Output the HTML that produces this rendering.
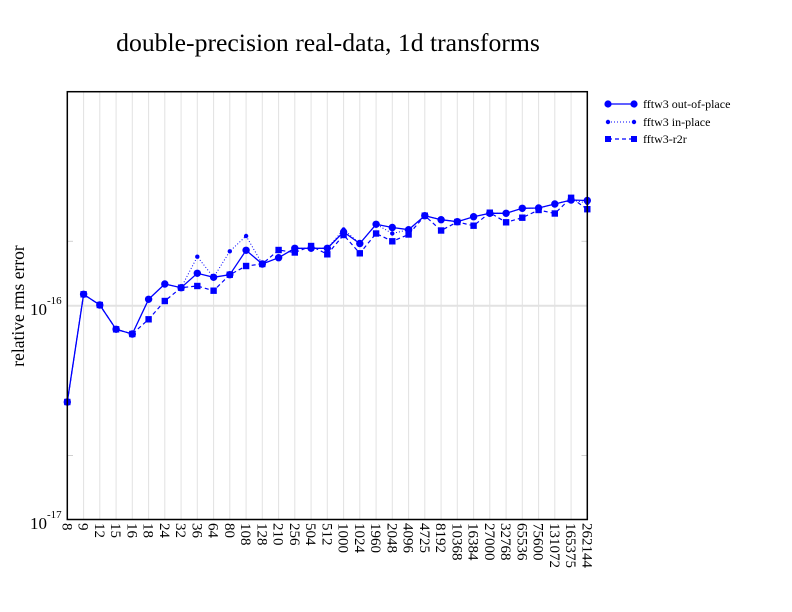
<!DOCTYPE html>
<html><head><meta charset="utf-8"><style>
html,body{margin:0;padding:0;background:#fff;}
svg{display:block;}
text{font-family:"Liberation Serif","DejaVu Serif",serif;fill:#000;}
</style></head><body>
<svg width="792" height="612" viewBox="0 0 792 612" xmlns="http://www.w3.org/2000/svg">
<rect width="792" height="612" fill="#fff"/>
<text x="328" y="51" font-size="25.7" text-anchor="middle">double-precision real-data, 1d transforms</text>
<g stroke="#e2e2e2" stroke-width="1">
<line x1="83.6" y1="91.7" x2="83.6" y2="519.5"/>
<line x1="99.8" y1="91.7" x2="99.8" y2="519.5"/>
<line x1="116.1" y1="91.7" x2="116.1" y2="519.5"/>
<line x1="132.3" y1="91.7" x2="132.3" y2="519.5"/>
<line x1="148.6" y1="91.7" x2="148.6" y2="519.5"/>
<line x1="164.8" y1="91.7" x2="164.8" y2="519.5"/>
<line x1="181.1" y1="91.7" x2="181.1" y2="519.5"/>
<line x1="197.3" y1="91.7" x2="197.3" y2="519.5"/>
<line x1="213.6" y1="91.7" x2="213.6" y2="519.5"/>
<line x1="229.8" y1="91.7" x2="229.8" y2="519.5"/>
<line x1="246.1" y1="91.7" x2="246.1" y2="519.5"/>
<line x1="262.3" y1="91.7" x2="262.3" y2="519.5"/>
<line x1="278.6" y1="91.7" x2="278.6" y2="519.5"/>
<line x1="294.8" y1="91.7" x2="294.8" y2="519.5"/>
<line x1="311.1" y1="91.7" x2="311.1" y2="519.5"/>
<line x1="327.3" y1="91.7" x2="327.3" y2="519.5"/>
<line x1="343.6" y1="91.7" x2="343.6" y2="519.5"/>
<line x1="359.8" y1="91.7" x2="359.8" y2="519.5"/>
<line x1="376.1" y1="91.7" x2="376.1" y2="519.5"/>
<line x1="392.3" y1="91.7" x2="392.3" y2="519.5"/>
<line x1="408.6" y1="91.7" x2="408.6" y2="519.5"/>
<line x1="424.8" y1="91.7" x2="424.8" y2="519.5"/>
<line x1="441.1" y1="91.7" x2="441.1" y2="519.5"/>
<line x1="457.3" y1="91.7" x2="457.3" y2="519.5"/>
<line x1="473.6" y1="91.7" x2="473.6" y2="519.5"/>
<line x1="489.8" y1="91.7" x2="489.8" y2="519.5"/>
<line x1="506.1" y1="91.7" x2="506.1" y2="519.5"/>
<line x1="522.3" y1="91.7" x2="522.3" y2="519.5"/>
<line x1="538.6" y1="91.7" x2="538.6" y2="519.5"/>
<line x1="554.8" y1="91.7" x2="554.8" y2="519.5"/>
<line x1="571.1" y1="91.7" x2="571.1" y2="519.5"/>
</g>
<line x1="67.3" y1="305.7" x2="587.3" y2="305.7" stroke="#e2e2e2" stroke-width="2"/>
<g stroke="#d0d0d0" stroke-width="1">
<line x1="67.3" y1="241.3" x2="73" y2="241.3"/><line x1="581.5" y1="241.3" x2="587.3" y2="241.3"/>
<line x1="67.3" y1="455.5" x2="73" y2="455.5"/><line x1="581.5" y1="455.5" x2="587.3" y2="455.5"/>
</g>

<!-- r2r -->
<polyline fill="none" stroke="#0000ff" stroke-width="1.2" stroke-dasharray="4,3" points="67.3,402 83.6,294.3 99.8,305 116.1,329.3 132.3,334 148.6,319.3 164.8,301 181.1,287.7 197.3,286 213.6,290.7 229.8,274.7 246.1,266 262.3,264 278.6,250 294.8,252.5 311.1,246 327.3,254.3 343.6,235 359.8,253.3 376.1,233.5 392.3,241.3 408.6,234.5 424.8,215.7 441.1,230.5 457.3,222 473.6,225.7 489.8,212.7 506.1,222.3 522.3,217.7 538.6,210 554.8,213.5 571.1,197.8 587.3,209.2"/>
<g fill="#0000ff">
<rect x="64.1" y="398.8" width="6.4" height="6.4"/>
<rect x="80.4" y="291.1" width="6.4" height="6.4"/>
<rect x="96.6" y="301.8" width="6.4" height="6.4"/>
<rect x="112.9" y="326.1" width="6.4" height="6.4"/>
<rect x="129.1" y="330.8" width="6.4" height="6.4"/>
<rect x="145.4" y="316.1" width="6.4" height="6.4"/>
<rect x="161.6" y="297.8" width="6.4" height="6.4"/>
<rect x="177.9" y="284.5" width="6.4" height="6.4"/>
<rect x="194.1" y="282.8" width="6.4" height="6.4"/>
<rect x="210.4" y="287.5" width="6.4" height="6.4"/>
<rect x="226.6" y="271.5" width="6.4" height="6.4"/>
<rect x="242.9" y="262.8" width="6.4" height="6.4"/>
<rect x="259.1" y="260.8" width="6.4" height="6.4"/>
<rect x="275.4" y="246.8" width="6.4" height="6.4"/>
<rect x="291.6" y="249.3" width="6.4" height="6.4"/>
<rect x="307.9" y="242.8" width="6.4" height="6.4"/>
<rect x="324.1" y="251.1" width="6.4" height="6.4"/>
<rect x="340.4" y="231.8" width="6.4" height="6.4"/>
<rect x="356.6" y="250.1" width="6.4" height="6.4"/>
<rect x="372.9" y="230.3" width="6.4" height="6.4"/>
<rect x="389.1" y="238.1" width="6.4" height="6.4"/>
<rect x="405.4" y="231.3" width="6.4" height="6.4"/>
<rect x="421.6" y="212.5" width="6.4" height="6.4"/>
<rect x="437.9" y="227.3" width="6.4" height="6.4"/>
<rect x="454.1" y="218.8" width="6.4" height="6.4"/>
<rect x="470.4" y="222.5" width="6.4" height="6.4"/>
<rect x="486.6" y="209.5" width="6.4" height="6.4"/>
<rect x="502.9" y="219.1" width="6.4" height="6.4"/>
<rect x="519.1" y="214.5" width="6.4" height="6.4"/>
<rect x="535.4" y="206.8" width="6.4" height="6.4"/>
<rect x="551.6" y="210.3" width="6.4" height="6.4"/>
<rect x="567.9" y="194.6" width="6.4" height="6.4"/>
<rect x="584.1" y="206" width="6.4" height="6.4"/>
</g>

<!-- in-place -->
<polyline fill="none" stroke="#0000ff" stroke-width="1" stroke-dasharray="1,2" points="67.3,402 83.6,294.3 99.8,305 116.1,329.3 132.3,334 148.6,299.3 164.8,284 181.1,287.7 197.3,256.7 213.6,277.3 229.8,251.3 246.1,236 262.3,264 278.6,257.7 294.8,248.3 311.1,248.3 327.3,248.3 343.6,229.5 359.8,243.5 376.1,224.3 392.3,233.5 408.6,229.7 424.8,215.7 441.1,219.7 457.3,221.7 473.6,216.7 489.8,213.3 506.1,213.3 522.3,208.3 538.6,208 554.8,204 571.1,200 587.3,203"/>
<g fill="#0000ff">
<circle cx="67.3" cy="402" r="2.2"/><circle cx="83.6" cy="294.3" r="2.2"/><circle cx="99.8" cy="305" r="2.2"/><circle cx="116.1" cy="329.3" r="2.2"/><circle cx="132.3" cy="334" r="2.2"/><circle cx="148.6" cy="299.3" r="2.2"/><circle cx="164.8" cy="284" r="2.2"/><circle cx="181.1" cy="287.7" r="2.2"/><circle cx="197.3" cy="256.7" r="2.2"/><circle cx="213.6" cy="277.3" r="2.2"/><circle cx="229.8" cy="251.3" r="2.2"/><circle cx="246.1" cy="236" r="2.2"/><circle cx="262.3" cy="264" r="2.2"/><circle cx="278.6" cy="257.7" r="2.2"/><circle cx="294.8" cy="248.3" r="2.2"/><circle cx="311.1" cy="248.3" r="2.2"/><circle cx="327.3" cy="248.3" r="2.2"/><circle cx="343.6" cy="229.5" r="2.2"/><circle cx="359.8" cy="243.5" r="2.2"/><circle cx="376.1" cy="224.3" r="2.2"/><circle cx="392.3" cy="233.5" r="2.2"/><circle cx="408.6" cy="229.7" r="2.2"/><circle cx="424.8" cy="215.7" r="2.2"/><circle cx="441.1" cy="219.7" r="2.2"/><circle cx="457.3" cy="221.7" r="2.2"/><circle cx="473.6" cy="216.7" r="2.2"/><circle cx="489.8" cy="213.3" r="2.2"/><circle cx="506.1" cy="213.3" r="2.2"/><circle cx="522.3" cy="208.3" r="2.2"/><circle cx="538.6" cy="208" r="2.2"/><circle cx="554.8" cy="204" r="2.2"/><circle cx="571.1" cy="200" r="2.2"/><circle cx="587.3" cy="203" r="2.2"/>
</g>

<!-- out-of-place -->
<polyline fill="none" stroke="#0000ff" stroke-width="1.3" points="67.3,402 83.6,294.3 99.8,305 116.1,329.3 132.3,334 148.6,299.3 164.8,284 181.1,287.7 197.3,273.3 213.6,277.3 229.8,274.7 246.1,250.3 262.3,264 278.6,257.7 294.8,248.3 311.1,248.3 327.3,248.3 343.6,232 359.8,243.5 376.1,224.3 392.3,227.5 408.6,229.7 424.8,215.7 441.1,219.7 457.3,221.7 473.6,216.7 489.8,213.3 506.1,213.3 522.3,208.3 538.6,208 554.8,204 571.1,200 587.3,200.5"/>
<g fill="#0000ff">
<circle cx="67.3" cy="402" r="3.7"/><circle cx="83.6" cy="294.3" r="3.7"/><circle cx="99.8" cy="305" r="3.7"/><circle cx="116.1" cy="329.3" r="3.7"/><circle cx="132.3" cy="334" r="3.7"/><circle cx="148.6" cy="299.3" r="3.7"/><circle cx="164.8" cy="284" r="3.7"/><circle cx="181.1" cy="287.7" r="3.7"/><circle cx="197.3" cy="273.3" r="3.7"/><circle cx="213.6" cy="277.3" r="3.7"/><circle cx="229.8" cy="274.7" r="3.7"/><circle cx="246.1" cy="250.3" r="3.7"/><circle cx="262.3" cy="264" r="3.7"/><circle cx="278.6" cy="257.7" r="3.7"/><circle cx="294.8" cy="248.3" r="3.7"/><circle cx="311.1" cy="248.3" r="3.7"/><circle cx="327.3" cy="248.3" r="3.7"/><circle cx="343.6" cy="232" r="3.7"/><circle cx="359.8" cy="243.5" r="3.7"/><circle cx="376.1" cy="224.3" r="3.7"/><circle cx="392.3" cy="227.5" r="3.7"/><circle cx="408.6" cy="229.7" r="3.7"/><circle cx="424.8" cy="215.7" r="3.7"/><circle cx="441.1" cy="219.7" r="3.7"/><circle cx="457.3" cy="221.7" r="3.7"/><circle cx="473.6" cy="216.7" r="3.7"/><circle cx="489.8" cy="213.3" r="3.7"/><circle cx="506.1" cy="213.3" r="3.7"/><circle cx="522.3" cy="208.3" r="3.7"/><circle cx="538.6" cy="208" r="3.7"/><circle cx="554.8" cy="204" r="3.7"/><circle cx="571.1" cy="200" r="3.7"/><circle cx="587.3" cy="200.5" r="3.7"/>
</g>

<rect x="67.3" y="91.7" width="520" height="427.8" fill="none" stroke="#000" stroke-width="1.5"/>
<g font-size="17">
<text x="47" y="315" text-anchor="end">10</text><text x="47" y="304" font-size="11">-16</text>
<text x="47" y="529" text-anchor="end">10</text><text x="47" y="518" font-size="11">-17</text>
</g>
<text transform="translate(24,306) rotate(-90)" font-size="17.5" text-anchor="middle">relative rms error</text>

<g font-size="15">
<text transform="translate(62.3,523) rotate(90)">8</text>
<text transform="translate(78.6,523) rotate(90)">9</text>
<text transform="translate(94.8,523) rotate(90)">12</text>
<text transform="translate(111.1,523) rotate(90)">15</text>
<text transform="translate(127.3,523) rotate(90)">16</text>
<text transform="translate(143.6,523) rotate(90)">18</text>
<text transform="translate(159.8,523) rotate(90)">24</text>
<text transform="translate(176.1,523) rotate(90)">32</text>
<text transform="translate(192.3,523) rotate(90)">36</text>
<text transform="translate(208.6,523) rotate(90)">64</text>
<text transform="translate(224.8,523) rotate(90)">80</text>
<text transform="translate(241.1,523) rotate(90)">108</text>
<text transform="translate(257.3,523) rotate(90)">128</text>
<text transform="translate(273.6,523) rotate(90)">210</text>
<text transform="translate(289.8,523) rotate(90)">256</text>
<text transform="translate(306.1,523) rotate(90)">504</text>
<text transform="translate(322.3,523) rotate(90)">512</text>
<text transform="translate(338.6,523) rotate(90)">1000</text>
<text transform="translate(354.8,523) rotate(90)">1024</text>
<text transform="translate(371.1,523) rotate(90)">1960</text>
<text transform="translate(387.3,523) rotate(90)">2048</text>
<text transform="translate(403.6,523) rotate(90)">4096</text>
<text transform="translate(419.8,523) rotate(90)">4725</text>
<text transform="translate(436.1,523) rotate(90)">8192</text>
<text transform="translate(452.3,523) rotate(90)">10368</text>
<text transform="translate(468.6,523) rotate(90)">16384</text>
<text transform="translate(484.8,523) rotate(90)">27000</text>
<text transform="translate(501.1,523) rotate(90)">32768</text>
<text transform="translate(517.3,523) rotate(90)">65536</text>
<text transform="translate(533.6,523) rotate(90)">75600</text>
<text transform="translate(549.8,523) rotate(90)">131072</text>
<text transform="translate(566.1,523) rotate(90)">165375</text>
<text transform="translate(582.3,523) rotate(90)">262144</text>
</g>

<line x1="608" y1="104" x2="634" y2="104" stroke="#0000ff" stroke-width="1.3"/>
<circle cx="608" cy="104" r="3.6" fill="#0000ff"/><circle cx="634" cy="104" r="3.6" fill="#0000ff"/>
<text x="643" y="108" font-size="12">fftw3 out-of-place</text>
<line x1="608" y1="122" x2="634" y2="122" stroke="#0000ff" stroke-width="1" stroke-dasharray="1,2"/>
<circle cx="608" cy="122" r="2.2" fill="#0000ff"/><circle cx="634" cy="122" r="2.2" fill="#0000ff"/>
<text x="643" y="126" font-size="12">fftw3 in-place</text>
<line x1="608" y1="139" x2="634" y2="139" stroke="#0000ff" stroke-width="1.2" stroke-dasharray="4,3"/>
<rect x="605" y="136" width="6" height="6" fill="#0000ff"/><rect x="631" y="136" width="6" height="6" fill="#0000ff"/>
<text x="643" y="143" font-size="12">fftw3-r2r</text>
</svg>
</body></html>
